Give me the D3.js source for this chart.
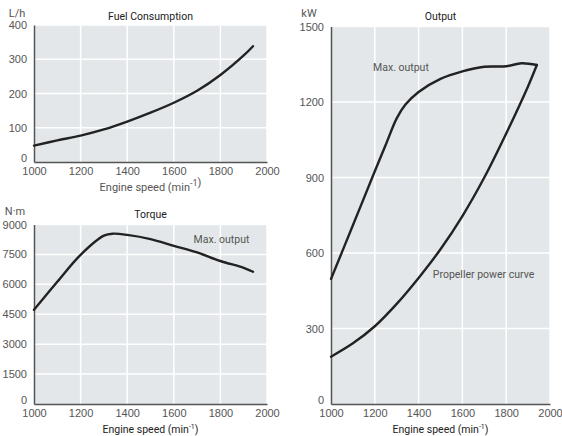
<!DOCTYPE html>
<html>
<head>
<meta charset="utf-8">
<script src="https://cdn.jsdelivr.net/npm/d3@7"></script>
<style>
  body { margin: 0; background: #fff; }
  svg { font-family: Roboto, "Open Sans", sans-serif; }
  .tick-label { fill: #555; font-size: 11px; }
  .title { fill: #222; font-size: 10.5px; }
  .note { fill: #555; font-size: 10.5px; }
</style>
</head>
<body>
<svg class="chart" width="562" height="436"></svg>
<script>
// shared x axis
var rpmTicks = [1000, 1200, 1400, 1600, 1800, 2000];

// fuel consumption, L/h
var fuelTicks = [0, 100, 200, 300, 400];
var fuelRpm = [1000, 1100, 1200, 1300, 1400, 1500, 1600, 1700, 1800, 1900, 1940];
var fuelLph = [48, 63, 77, 95, 118, 144, 173, 208, 254, 311, 338];

// torque, N·m
var torqueTicks = [0, 1500, 3000, 4500, 6000, 7500, 9000];
var torqueRpm = [1000, 1100, 1200, 1300, 1340, 1400, 1500, 1600, 1700, 1800, 1900, 1940];
var torqueNm = [4720, 6130, 7480, 8440, 8540, 8480, 8270, 7930, 7600, 7170, 6830, 6630];

// output, kW
var outputTicks = [0, 300, 600, 900, 1200, 1500];
var maxOutRpm = [1000, 1100, 1200, 1250, 1300, 1340, 1400, 1500, 1600, 1700, 1800, 1870, 1940];
var maxOutKw = [497, 710, 925, 1030, 1135, 1190, 1240, 1292, 1322, 1340, 1342, 1354, 1347];
var propRpm = [1000, 1100, 1200, 1300, 1400, 1500, 1600, 1700, 1800, 1900, 1940];
var propKw = [188, 241, 309, 398, 501, 615, 747, 900, 1075, 1263, 1347];

var svg = d3.select('.chart');

function panel(opt) {
    var x = d3.scaleLinear().domain([1000, 2000]).range([opt.left, opt.right]);
    var y = d3.scaleLinear().domain([0, opt.yMax]).range([opt.bottom, opt.top]);
    var g = svg.append('g');

    g.append('rect')
        .attr('x', opt.left).attr('y', opt.top)
        .attr('width', opt.right - opt.left).attr('height', opt.bottom - opt.top)
        .attr('fill', '#e3e7e9');

    // white grid
    g.selectAll('.vgrid').data(rpmTicks.slice(1))
        .enter().append('line')
        .attr('x1', x).attr('x2', x)
        .attr('y1', opt.top).attr('y2', opt.bottom)
        .attr('stroke', '#fff').attr('stroke-width', 1.5);
    g.selectAll('.hgrid').data(opt.yTicks.slice(1))
        .enter().append('line')
        .attr('x1', opt.left).attr('x2', opt.right)
        .attr('y1', y).attr('y2', y)
        .attr('stroke', '#fff').attr('stroke-width', 1.5);

    // axes without tick marks
    var yAxis = d3.axisLeft(y).tickValues(opt.yTicks).tickSize(0).tickPadding(7).tickFormat(d3.format('d'));
    var xAxis = d3.axisBottom(x).tickValues(rpmTicks).tickSize(0).tickPadding(5).tickFormat(d3.format('d'));
    var ya = g.append('g').attr('transform', 'translate(' + opt.left + ',0)').call(yAxis);
    var xa = g.append('g').attr('transform', 'translate(0,' + opt.bottom + ')').call(xAxis);
    [ya, xa].forEach(function (a) {
        a.select('.domain').attr('stroke', '#555').attr('stroke-width', 1.5);
        a.selectAll('text').attr('class', 'tick-label').attr('font-family', null).attr('font-size', null).attr('fill', null);
    });
    // the zero label sits a bit above the corner
    ya.selectAll('.tick').filter(function (d) { return d === 0; }).select('text').attr('dy', '-0.05em');

    g.append('text').attr('class', 'title')
        .attr('x', (opt.left + opt.right) / 2).attr('y', opt.titleY)
        .attr('text-anchor', 'middle').text(opt.title);
    g.append('text').attr('class', 'tick-label')
        .attr('x', opt.unitX).attr('y', opt.titleY - 3)
        .attr('text-anchor', 'middle').text(opt.unit);

    var lab = g.append('text')
        .attr('x', (opt.left + opt.right) / 2).attr('y', opt.bottom + 29)
        .attr('text-anchor', 'middle')
        .attr('font-size', opt.lightLabel ? '11px' : '10.5px')
        .attr('fill', opt.lightLabel ? '#555' : '#222');
    lab.append('tspan').text('Engine speed (min');
    lab.append('tspan').attr('dy', opt.lightLabel ? -5 : -4)
        .attr('font-size', opt.lightLabel ? '9px' : '7px').text('-1');
    lab.append('tspan').attr('dy', opt.lightLabel ? 0 : 4).text(')');

    var line = d3.line()
        .x(function (d) { return x(d[0]); })
        .y(function (d) { return y(d[1]); })
        .curve(d3.curveCatmullRom.alpha(0.5));
    opt.series.forEach(function (s) {
        g.append('path')
            .datum(d3.zip(s[0], s[1]))
            .attr('d', line)
            .attr('fill', 'none')
            .attr('stroke', '#222')
            .attr('stroke-width', 2.4)
            .attr('stroke-linecap', 'round')
            .attr('stroke-linejoin', 'round');
    });
    return { x: x, y: y, g: g };
}

panel({
    left: 34, right: 267, top: 25, bottom: 162, yMax: 400, yTicks: fuelTicks,
    title: 'Fuel Consumption', titleY: 20, unit: 'L/h', unitX: 17, lightLabel: true,
    series: [[fuelRpm, fuelLph]]
});

var tq = panel({
    left: 34, right: 267, top: 224.5, bottom: 404, yMax: 9000, yTicks: torqueTicks,
    title: 'Torque', titleY: 218, unit: 'N·m', unitX: 15,
    series: [[torqueRpm, torqueNm]]
});
tq.g.append('text').attr('class', 'note')
    .attr('x', tq.x(1685)).attr('y', tq.y(8080)).text('Max. output');

var op = panel({
    left: 331, right: 550, top: 26.5, bottom: 404, yMax: 1500, yTicks: outputTicks,
    title: 'Output', titleY: 20, unit: 'kW', unitX: 309,
    series: [[maxOutRpm, maxOutKw], [propRpm, propKw]]
});
op.g.append('text').attr('class', 'note')
    .attr('x', op.x(1192)).attr('y', op.y(1322)).text('Max. output');
op.g.append('text').attr('class', 'note')
    .attr('x', op.x(1465)).attr('y', op.y(500)).text('Propeller power curve');
</script>
</body>
</html>
